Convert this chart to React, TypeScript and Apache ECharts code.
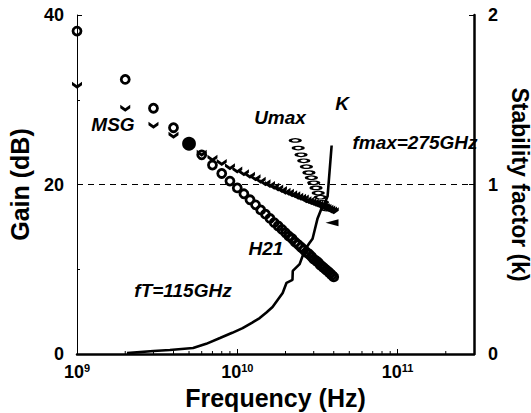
import React, { useEffect, useRef } from 'react';
import * as echarts from 'echarts';

const FONT = '"Liberation Sans", Arial, Helvetica, sans-serif';

// Frequencies in GHz (1 GHz sweep)
const h21FreqGHz = [1, 2, 3, 4, 5, 6, 7, 8, 9, 10, 11, 12, 13, 14, 15, 16, 17, 18, 19, 20,
  21, 22, 23, 24, 25, 26, 27, 28, 29, 30, 31, 32, 33, 34, 35, 36, 37, 38, 39, 40];
// |H21| in dB
const h21Gain = [38.1, 32.4, 29.0, 26.7, 24.8, 23.5, 22.3, 21.3, 20.4, 19.6, 18.9, 18.2, 17.6, 17.0, 16.5, 16.0, 15.5, 15.1, 14.7, 14.3,
  13.9, 13.6, 13.2, 12.9, 12.6, 12.3, 12.0, 11.8, 11.5, 11.2, 11.0, 10.8, 10.5, 10.3, 10.1, 9.9, 9.7, 9.5, 9.3, 9.1];

const msgFreqGHz = [1, 2, 3, 4, 5, 6, 7, 8, 9, 10, 11, 12, 13, 14, 15, 16, 17, 18, 19, 20,
  21, 22, 23, 24, 25, 26, 27, 28, 29, 30, 31, 32, 33, 34, 35, 36, 37, 38, 39, 40];
// MSG in dB
const msgGain = [31.7, 29.0, 27.0, 25.8, 24.7, 23.7, 23.1, 22.6, 22.1, 21.7, 21.4, 21.1, 20.8, 20.5, 20.2, 20.0, 19.8, 19.6, 19.4, 19.2,
  19.1, 18.9, 18.8, 18.6, 18.5, 18.4, 18.2, 18.1, 18.0, 17.9, 17.8, 17.7, 17.6, 17.5, 17.4, 17.3, 17.2, 17.1, 17.0, 16.9];

// Umax in dB
const umaxFreqGHz = [23, 24, 25, 26, 27, 28, 29, 30, 31, 32, 33, 34, 35, 36];
const umaxGain = [25.2, 24.3, 23.5, 22.8, 22.1, 21.4, 20.8, 20.2, 19.6, 19.0, 18.5, 17.9, 17.5, 17.1];

const umaxTailFreqGHz = [39];
const umaxTailGain = [15.5];

// Stability factor K
const kFreqGHz = [2.05, 3.0, 3.8, 5.3, 6.4, 7.8, 9.3, 10.8, 12.4, 13.8, 15.2, 16.6, 17.9, 19.2, 20.3, 22.1, 22.2, 24.5, 26.3, 28.0, 29.5, 30.4, 31.7, 33.6, 34.8, 36.6, 38.8];
const kValue = [0.005, 0.018, 0.024, 0.035, 0.06, 0.094, 0.125, 0.153, 0.185, 0.212, 0.245, 0.277, 0.32, 0.36, 0.42, 0.437, 0.49, 0.53, 0.61, 0.65, 0.68, 0.73, 0.8, 0.86, 0.88, 0.93, 1.23];

const minorTickFreqHz = [2e9, 3e9, 4e9, 5e9, 6e9, 7e9, 8e9, 9e9, 2e10, 3e10, 4e10, 5e10, 6e10, 7e10, 8e10, 9e10, 2e11];

const xMin = 1e9;
const xMax = 3e11;

const annotations = [
  { text: 'MSG', x: 113, y: 124 },
  { text: 'Umax', x: 280, y: 117 },
  { text: 'K', x: 342, y: 103 },
  { text: 'fmax=275GHz', x: 415, y: 142 },
  { text: 'H21', x: 266, y: 248 },
  { text: 'fT=115GHz', x: 183, y: 290 },
];

export default function App() {
  const ref = useRef<HTMLDivElement>(null);
  useEffect(() => {
    document.body.style.margin = '0';
    const chart = echarts.init(ref.current!, null, { renderer: 'svg' });
    const ghz = (f: number) => f * 1e9;
    const option: any = {
      animation: false,
      backgroundColor: '#fff',
      grid: { left: 77, right: 57, top: 15, bottom: 59, containLabel: false, outerBoundsMode: 'none' },
      xAxis: [
        {
          type: 'log', logBase: 10, min: xMin, max: xMax, position: 'bottom',
          axisLine: { lineStyle: { color: '#000', width: 1.2 } },
          axisTick: { inside: true, length: 5, lineStyle: { color: '#000', width: 1 } },
          splitLine: { show: false },
          axisLabel: {
            margin: 8,
            color: '#000',
            fontFamily: FONT,
            formatter: (v: number) => {
              const e = Math.log10(v);
              const r = Math.round(e);
              if (Math.abs(e - r) > 1e-6) return '';
              return '{b|10}{s|' + r + '}';
            },
            rich: {
              b: { fontSize: 18, fontWeight: 'bold', fontFamily: FONT, color: '#000', lineHeight: 20 },
              s: { fontSize: 11, fontWeight: 'bold', fontFamily: FONT, color: '#000', verticalAlign: 'top', lineHeight: 20 },
            },
          },
          name: 'Frequency (Hz)', nameLocation: 'middle', nameGap: 28,
          nameTextStyle: { fontSize: 25, fontWeight: 'bold', color: '#000', fontFamily: FONT },
        },
        {
          type: 'log', logBase: 10, min: xMin, max: xMax, position: 'top',
          axisLine: { lineStyle: { color: '#000', width: 2.5 } },
          axisTick: { show: false }, axisLabel: { show: false }, splitLine: { show: false },
        },
      ],
      yAxis: [
        {
          type: 'value', min: 0, max: 40, interval: 20, position: 'left',
          axisLine: { show: true, lineStyle: { color: '#000', width: 1 } },
          axisTick: { inside: true, length: 5, lineStyle: { color: '#000' } },
          minorTick: { show: true, splitNumber: 2, length: 3, lineStyle: { color: '#000' } },
          splitLine: { show: false }, minorSplitLine: { show: false },
          axisLabel: { fontSize: 18, fontWeight: 'bold', color: '#000', fontFamily: FONT, margin: 13 },
          name: 'Gain (dB)', nameLocation: 'middle', nameGap: 45,
          nameTextStyle: { fontSize: 25, fontWeight: 'bold', color: '#000', fontFamily: FONT },
        },
        {
          type: 'value', min: 0, max: 2, interval: 1, position: 'right',
          axisLine: { show: true, lineStyle: { color: '#000', width: 2.5 } },
          axisTick: { inside: true, length: 5, lineStyle: { color: '#000' } },
          splitLine: { show: false },
          axisLabel: { fontSize: 18, fontWeight: 'bold', color: '#000', fontFamily: FONT, margin: 14 },
          name: 'Stability factor (k)', nameLocation: 'middle', nameGap: 25, nameRotate: -90,
          nameTextStyle: { fontSize: 23, fontWeight: 'bold', color: '#000', fontFamily: FONT },
        },
      ],
      series: [
        {
          name: 'K', type: 'line', xAxisIndex: 0, yAxisIndex: 1,
          data: kFreqGHz.map((f, i) => [ghz(f), kValue[i]]),
          showSymbol: false, symbol: 'none',
          lineStyle: { color: '#000', width: 2.6 },
          z: 2,
        },
        {
          name: 'H21', type: 'scatter', xAxisIndex: 0, yAxisIndex: 0, clip: false,
          data: h21FreqGHz.map((f, i) => (f === 5
            ? { value: [ghz(f), h21Gain[i]], symbolSize: 11, itemStyle: { color: '#000' } }
            : { value: [ghz(f), h21Gain[i]] })),
          symbol: 'circle', symbolSize: 8,
          itemStyle: { color: 'rgba(255,255,255,0)', borderColor: '#000', borderWidth: 2.8, opacity: 1 },
          markLine: {
            silent: true, symbol: ['none', 'none'], label: { show: false },
            lineStyle: { color: '#000', type: [6, 5], width: 1.2 },
            data: [{ yAxis: 20 }],
          },
          z: 3,
        },
        {
          name: 'MSG', type: 'scatter', xAxisIndex: 0, yAxisIndex: 0, clip: false,
          data: msgFreqGHz.map((f, i) => [ghz(f), msgGain[i]]),
          symbol: 'path://M0,0L5,4L10,0L10,4L5,8L0,4Z', symbolSize: [10, 7],
          itemStyle: { color: '#000', opacity: 1 },
          z: 3,
        },
        {
          name: 'Umax', type: 'scatter', xAxisIndex: 0, yAxisIndex: 0,
          data: umaxFreqGHz.map((f, i) => [ghz(f), umaxGain[i]]),
          symbol: 'circle', symbolSize: [10, 3.5],
          itemStyle: { color: 'rgba(255,255,255,0)', borderColor: '#000', borderWidth: 2, opacity: 1 },
          z: 3,
        },
        {
          name: 'Umax tail', type: 'scatter', xAxisIndex: 0, yAxisIndex: 0,
          data: umaxTailFreqGHz.map((f, i) => [ghz(f), umaxTailGain[i]]),
          symbol: 'triangle', symbolSize: [7, 13], symbolRotate: 90,
          itemStyle: { color: '#000', opacity: 1 },
          z: 3,
        },
        {
          name: 'minor ticks', type: 'custom', xAxisIndex: 0, yAxisIndex: 0, silent: true, clip: false,
          data: minorTickFreqHz.map((f) => [f, 0]),
          renderItem: (params: any, api: any) => {
            const p = api.coord([api.value(0), 0]);
            return {
              type: 'line',
              shape: { x1: p[0], y1: p[1], x2: p[0], y2: p[1] - 3 },
              style: { stroke: '#000', lineWidth: 1 },
            };
          },
          z: 1,
        },
      ],
      graphic: annotations.map((a) => ({
        type: 'text', x: a.x, y: a.y, z: 10,
        style: {
          text: a.text, fill: '#000', fontSize: 19, fontWeight: 'bold', fontStyle: 'italic',
          fontFamily: FONT, align: 'center', verticalAlign: 'middle',
        },
      })),
    };
    chart.setOption(option);
    return () => chart.dispose();
  }, []);
  return <div ref={ref} style={{ width: 531, height: 413 }} />;
}
